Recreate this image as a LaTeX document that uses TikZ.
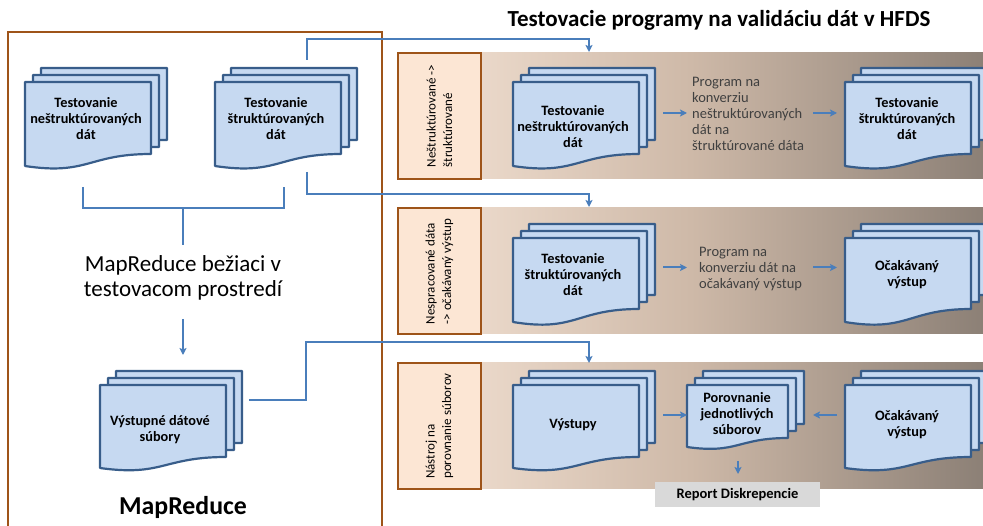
\documentclass[tikz,border=0pt]{standalone}
\usepackage{fontspec}
\setmainfont{Carlito}
\usetikzlibrary{arrows.meta}

\definecolor{docfill}{RGB}{198,217,241}
\definecolor{docline}{RGB}{56,93,138}
\definecolor{connblue}{RGB}{74,126,187}
\definecolor{brownline}{RGB}{158,84,25}
\definecolor{labfill}{RGB}{252,230,212}
\definecolor{bandL}{RGB}{245,228,214}
\definecolor{bandM}{RGB}{206,185,168}
\definecolor{bandR}{RGB}{140,128,118}
\definecolor{reportfill}{RGB}{217,217,217}
\definecolor{progray}{RGB}{64,64,64}

\tikzset{
  docpage/.style={fill=docfill, draw=docline, line width=2.2pt, line join=round},
  doctext/.style={font=\bfseries\fontsize{14.3}{16}\selectfont, align=center, inner sep=0pt},
  connector/.style={draw=connblue, line width=2pt},
  flowarrow/.style={connector, -{Stealth[length=7pt,width=7pt,inset=1.5pt]}},
  labelbox/.style={draw=brownline, fill=labfill, line width=2pt, rotate=90,
    align=left, font=\fontsize{13}{16.5}\selectfont, inner sep=0pt,
    minimum width=126pt, minimum height=83pt},
  programtext/.style={text=progray, align=left, anchor=west,
    font=\fontsize{14.5}{16}\selectfont, inner sep=0pt},
  band/.style={left color=bandL, right color=bandR, middle color=bandM},
  bigbox/.style={draw=brownline, line width=2pt},
}

% one page of a document: left x, top y, width, left height, right height
\newcommand\pagepath[5]{(#1,#2) -- ++(#3,0) -- ++(0,#5)
  .. controls +({-0.5*(#3)},0) and ({#1+0.5*(#3)},{#2+#4+0.8*(#4-#5)}) ..
  (#1,{#2+#4}) -- cycle}

% stack of three pages with a caption: name, x, y, w, h, hr, text dx, text dy, text
\newcommand\mdoc[9]{%
  \foreach \k in {2,1,0}{\filldraw[docpage] \pagepath{#2+8*\k}{#3-7*\k}{#4}{#5}{#6};}
  \node[doctext] (#1) at ({#2+#7},{#3+#8}) {#9};}

\begin{document}
\begin{tikzpicture}[x=1pt, y=-1pt]
\useasboundingbox (0,0) rectangle (983,526);
\clip (0,0) rectangle (983,526);

% MapReduce frame
\draw[bigbox] (8,32) rectangle (382,545);

% title
\node[font=\bfseries\fontsize{23}{26}\selectfont] (title) at (719,20)
  {Testovacie programy na validáciu dát v HFDS};

% row bands
\shade[band] (398,53) rectangle (983,179);
\shade[band] (398,208) rectangle (983,334);
\shade[band] (398,363) rectangle (983,488);

% row labels
\node[labelbox] (lab1) at (439.5,116) {Neštruktúrované ->\\štruktúrované};
\node[labelbox] (lab2) at (439.5,271.5) {Nespracované dáta\\-> očakávaný výstup};
\node[labelbox] (lab3) at (439.5,426) {Nástroj na\\porovnanie súborov};

% left side documents
\mdoc{lneS}{25}{82}{126}{84}{72}{61}{37}{Testovanie\\neštruktúrovaných\\dát}
\mdoc{lS}{215}{82}{126}{84}{72}{61}{37}{Testovanie\\štruktúrovaných\\dát}
\mdoc{vyst}{100}{385}{126}{83}{72}{60}{45}{\fontsize{14.3}{14.5}\selectfont Výstupné dátové\\súbory}

\node[font=\fontsize{23}{25}\selectfont, align=center] (mrtest) at (183,278)
  {MapReduce bežiaci v\\testovacom prostredí};
\node[font=\bfseries\fontsize{25.8}{28}\selectfont] (mrlabel) at (183,507) {MapReduce};

% row 1
\mdoc{r1a}{513}{82}{126}{84}{72}{60}{45}{Testovanie\\neštruktúrovaných\\dát}
\mdoc{r1b}{845}{82}{126}{84}{72}{62}{37}{Testovanie\\štruktúrovaných\\dát}
\node[programtext] (prog1) at (692,113.5)
  {Program na\\konverziu\\neštruktúrovaných\\dát na\\štruktúrované dáta};

% row 2
\mdoc{r2a}{513}{238}{126}{84}{71}{60}{37}{Testovanie\\štruktúrovaných\\dát}
\mdoc{r2b}{845}{238}{126}{84}{71}{62}{36.5}{Očakávaný\\výstup}
\node[programtext] (prog2) at (699,269)
  {Program na\\konverziu dát na\\očakávaný výstup};

% row 3
\mdoc{r3a}{513}{385}{126}{83}{72}{60}{40}{Výstupy}
\mdoc{r3c}{687}{385}{101}{62}{53}{50}{29}{Porovnanie\\jednotlivých\\súborov}
\mdoc{r3b}{845}{385}{126}{83}{72}{62}{40}{Očakávaný\\výstup}
\node[fill=reportfill, minimum width=165pt, minimum height=25pt, inner sep=0pt,
  font=\bfseries\fontsize{14.5}{16}\selectfont] (report) at (737.5,494.5)
  {Report Diskrepencie};

% connector points
\coordinate (b1) at (83,187);  \coordinate (b2) at (284,187);
\coordinate (bm) at (183,208); \coordinate (bt) at (183,245);
\coordinate (ma) at (183,319); \coordinate (mb) at (183,355);
\coordinate (s1) at (307,60);  \coordinate (k1) at (307,39);  \coordinate (t1) at (589,52);
\coordinate (s2) at (307,172); \coordinate (k2) at (307,194); \coordinate (t2) at (589,207);
\coordinate (s3) at (249,400); \coordinate (k3) at (306,400);
\coordinate (k4) at (306,342); \coordinate (t3) at (589,363);

% bracket joining the two test sets
\draw[connector] (b1) |- (bm) -| (b2);
\draw[connector] (bm) -- (bt);
\draw[flowarrow] (ma) -- (mb);

% feeds into the rows
\draw[flowarrow] (s1) -- (k1) -| (t1);
\draw[flowarrow] (s2) -- (k2) -| (t2);
\draw[flowarrow] (s3) -- (k3) -- (k4) -| (t3);

% arrows inside rows
\coordinate (a1) at (663,113);   \coordinate (a2) at (687,113);
\coordinate (a3) at (813,113);   \coordinate (a4) at (837,113);
\coordinate (a5) at (663,267.5); \coordinate (a6) at (687,267.5);
\coordinate (a7) at (813,267.5); \coordinate (a8) at (837,267.5);
\coordinate (a9) at (663,415);   \coordinate (a10) at (687,415);
\coordinate (a11) at (837,415);  \coordinate (a12) at (813,415);
\coordinate (a13) at (738,461);  \coordinate (a14) at (738,474);
\draw[flowarrow] (a1) -- (a2);
\draw[flowarrow] (a3) -- (a4);
\draw[flowarrow] (a5) -- (a6);
\draw[flowarrow] (a7) -- (a8);
\draw[flowarrow] (a9) -- (a10);
\draw[flowarrow] (a11) -- (a12);
\draw[flowarrow] (a13) -- (a14);
\end{tikzpicture}
\end{document}
